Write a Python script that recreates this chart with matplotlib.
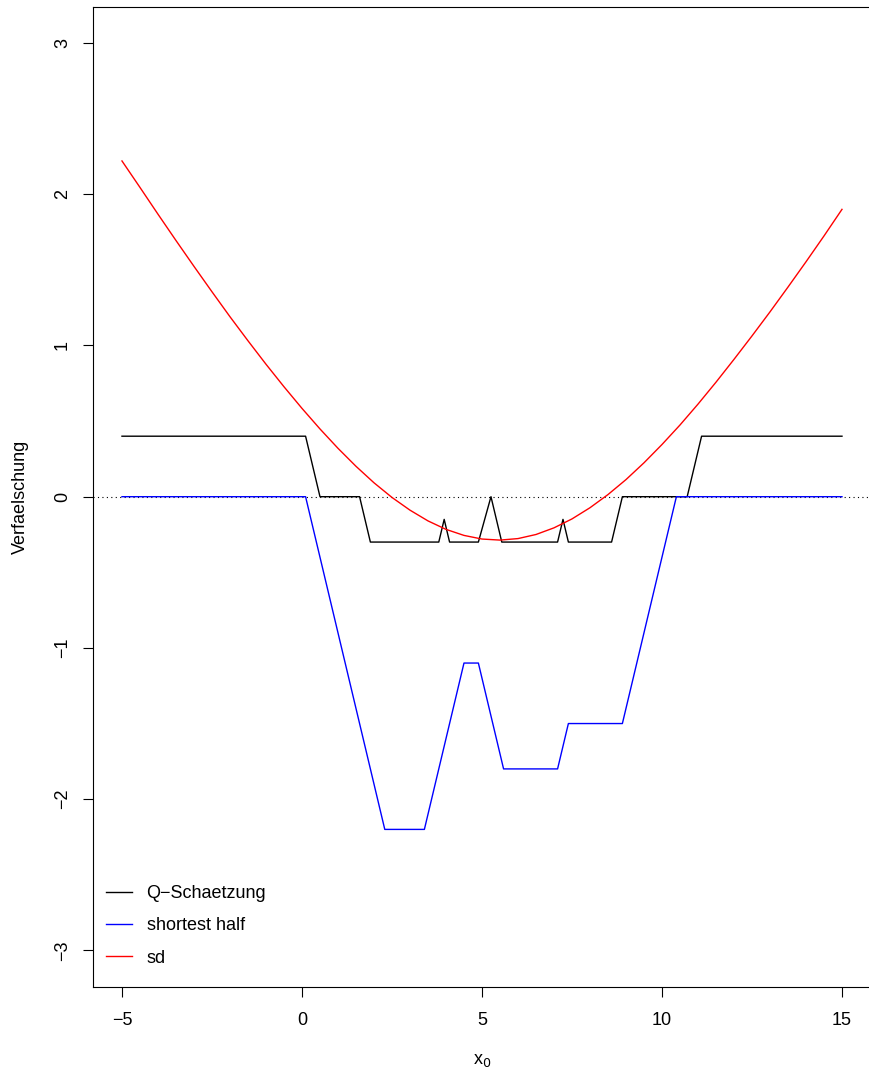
import numpy as np
import matplotlib
matplotlib.use("Agg")
import matplotlib.pyplot as plt

plt.rcParams['font.family'] = ['Liberation Sans', 'DejaVu Sans']

# Q-Schaetzung (black)
q_x = [-5, 0.1, 0.5, 1.6, 1.9, 3.8, 3.95, 4.1, 4.9, 5.25, 5.55, 7.1, 7.25, 7.4, 8.6, 8.9, 10.7, 11.1, 15]
q_y = [0.4, 0.4, 0, 0, -0.3, -0.3, -0.15, -0.3, -0.3, 0, -0.3, -0.3, -0.15, -0.3, -0.3, 0, 0, 0.4, 0.4]

# shortest half (blue)
sh_x = [-5, 0.1, 2.3, 3.4, 4.5, 4.9, 5.6, 7.1, 7.4, 8.9, 10.4, 15]
sh_y = [0, 0, -2.2, -2.2, -1.1, -1.1, -1.8, -1.8, -1.5, -1.5, 0, 0]

# sd (red), read every 0.5
sd_x = np.arange(-5, 15.01, 0.5)
sd_y = [2.22, 2.045, 1.868, 1.694, 1.523, 1.355, 1.19, 1.031, 0.876, 0.727, 0.584,
        0.448, 0.32, 0.201, 0.092, -0.005, -0.089, -0.16, -0.216, -0.256, -0.28,
        -0.287, -0.277, -0.25, -0.206, -0.147, -0.073, 0.014, 0.113, 0.224, 0.345,
        0.474, 0.612, 0.757, 0.908, 1.063, 1.222, 1.386, 1.553, 1.724, 1.9]

fig = plt.figure(figsize=(8.7, 10.8), dpi=100)
ax = fig.add_axes([0.1071, 0.0864, 0.8938, 0.9074])

ax.axhline(0, color='black', linestyle=(0, (1, 3)), linewidth=0.8)
ax.plot(q_x, q_y, color='black', linewidth=1.0, label='Q\u2212Schaetzung')
ax.plot(sh_x, sh_y, color='blue', linewidth=1.0, label='shortest half')
ax.plot(sd_x, sd_y, color='red', linewidth=1.0, label='sd')

ax.set_xlim(-5.8, 15.8)
ax.set_ylim(-3.24, 3.24)
ax.set_xticks([-5, 0, 5, 10, 15])
ax.set_xticklabels(['\u22125', '0', '5', '10', '15'])
ax.set_yticks([-3, -2, -1, 0, 1, 2, 3])
ax.set_yticklabels(['\u22123', '\u22122', '\u22121', '0', '1', '2', '3'], rotation=90, va='center')
ax.tick_params(direction='out', length=7, width=0.8, labelsize=13)
ax.tick_params(axis='x', pad=11)
ax.tick_params(axis='y', pad=9)
for s in ax.spines.values():
    s.set_linewidth(0.8)

ax.set_xlabel('x$_0$', fontsize=13, labelpad=17)
ax.set_ylabel('Verfaelschung', fontsize=13, labelpad=18)

ax.legend(loc='lower left', frameon=False, fontsize=13, handlelength=1.45,
          handletextpad=0.78, labelspacing=0.85, bbox_to_anchor=(-0.004, 0.004))

fig.savefig('out.png', dpi=100)
